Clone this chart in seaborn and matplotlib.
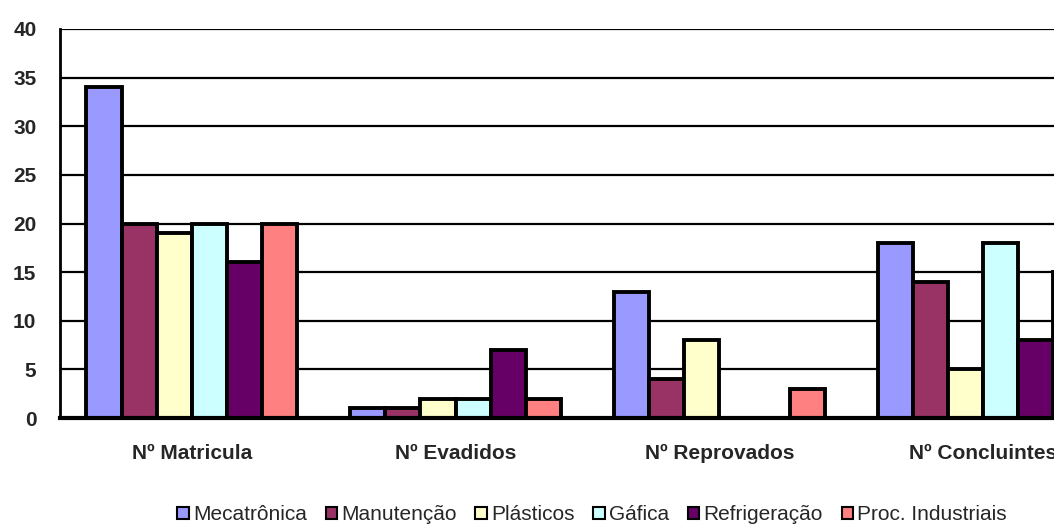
import matplotlib
matplotlib.use("Agg")
import matplotlib.pyplot as plt
from matplotlib.patches import Patch
import seaborn as sns
import pandas as pd

# Indicadores por curso
categorias = ["Nº Matricula", "Nº Evadidos", "Nº Reprovados", "Nº Concluintes"]
cursos = ["Mecatrônica", "Manutenção", "Plásticos", "Gáfica", "Refrigeração", "Proc. Industriais"]
mecatronica = [34, 1, 13, 18]
manutencao = [20, 1, 4, 14]
plasticos = [19, 2, 8, 5]
grafica = [20, 2, 0, 18]
refrigeracao = [16, 7, 0, 8]
proc_industriais = [20, 2, 3, 15]
cores = ["#9999FF", "#993366", "#FFFFCC", "#CCFFFF", "#660066", "#FF8080"]
yticks = [0, 5, 10, 15, 20, 25, 30, 35, 40]

series = [mecatronica, manutencao, plasticos, grafica, refrigeracao, proc_industriais]
rows = []
for curso, valores in zip(cursos, series):
    for cat, v in zip(categorias, valores):
        rows.append({"categoria": cat, "curso": curso, "valor": v})
df = pd.DataFrame(rows)

sns.set_style("white")
plt.rcParams["font.family"] = ["Liberation Sans", "DejaVu Sans"]

fig = plt.figure(figsize=(10.54, 5.25), dpi=100)
ax = fig.add_axes([60 / 1054, 107 / 525, 1055 / 1054, 389 / 525])

sns.barplot(data=df, x="categoria", y="valor", hue="curso", order=categorias,
            hue_order=cursos, palette=cores, width=0.8, saturation=1,
            edgecolor="black", linewidth=2.8, legend=False, ax=ax, zorder=3)

ax.set_ylim(0, 40)
ax.set_xlim(-0.5, 3.5)
ax.set_yticks(yticks)
ax.set_yticklabels([str(t) for t in yticks], fontsize=15, fontweight="bold")
ax.yaxis.grid(True, color="black", linewidth=1.6, zorder=0)
ax.set_axisbelow(True)
ax.tick_params(axis="y", length=0, pad=17)

ax.set_xticks(range(len(categorias)))
ax.set_xticklabels(categorias, fontsize=15, fontweight="bold")
ax.tick_params(axis="x", which="major", length=0, pad=19)
ax.set_xticks([i - 0.5 for i in range(len(categorias) + 1)], minor=True)
ax.tick_params(axis="x", which="minor", length=7, width=2, direction="out", color="black")
ax.set_xlabel("")
ax.set_ylabel("")

for side in ["top", "right"]:
    ax.spines[side].set_visible(False)
ax.spines["left"].set_color("black")
ax.spines["left"].set_linewidth(2)
ax.spines["bottom"].set_color("black")
ax.spines["bottom"].set_linewidth(3)
ax.spines["bottom"].set_zorder(4)

handles = [Patch(facecolor=c, edgecolor="black", linewidth=1.5) for c in cores]
fig.legend(handles, cursos, loc="center", bbox_to_anchor=(592 / 1054, 1 - 515 / 525),
           ncol=6, frameon=False, fontsize=15, handlelength=0.55, handleheight=0.55,
           handletextpad=0.2, columnspacing=0.9, borderaxespad=0)

fig.savefig("out.png", dpi=100)
